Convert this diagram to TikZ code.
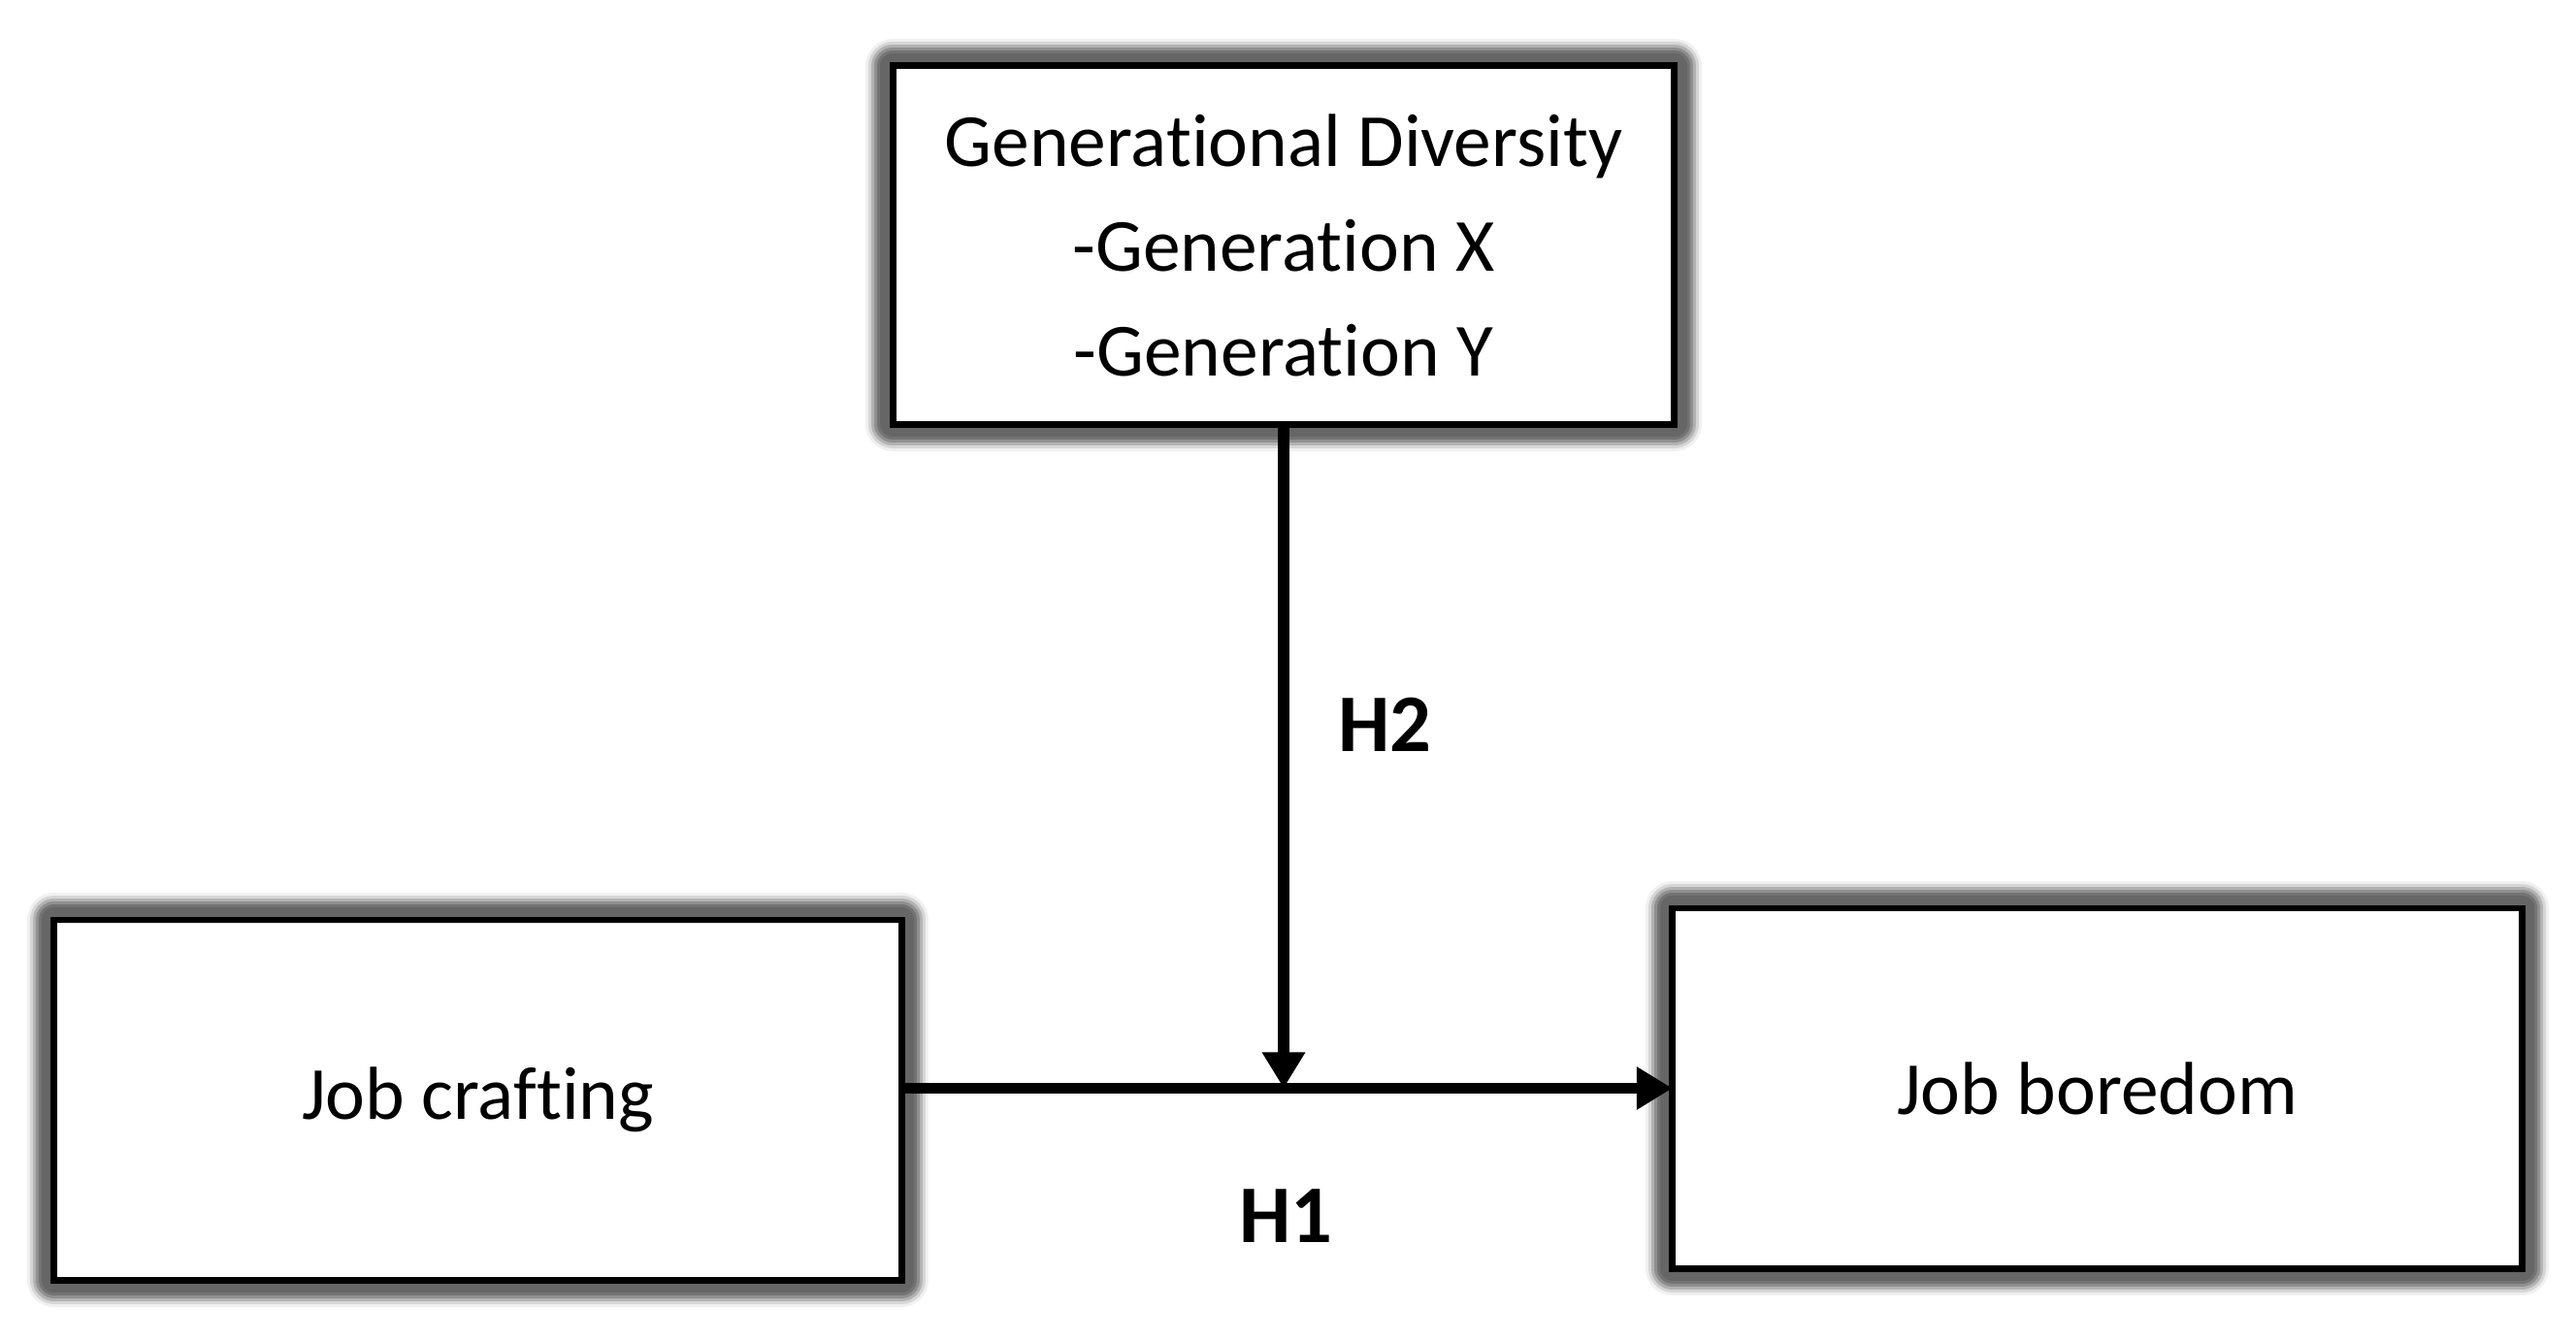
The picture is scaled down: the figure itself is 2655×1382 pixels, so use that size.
\documentclass[tikz,border=0pt]{standalone}
\usepackage{fontspec}
\setmainfont[RawFeature={-liga;-clig;-calt;-dlig}]{Carlito}
\usetikzlibrary{arrows.meta,backgrounds}
\newcommand{\nolig}{\kern0pt{}}
\begin{document}
\begin{tikzpicture}[x=0.01cm,y=-0.01cm,
  boxnode/.style={draw=black,fill=white,line width=0.068cm,inner sep=0pt,outer sep=0pt,
    align=center,font=\fontsize{22}{30.7}\selectfont},
  hlabel/.style={font=\fontsize{24}{28}\selectfont\bfseries,inner sep=0pt},
  conn/.style={line width=0.115cm,-{Triangle[length=0.37cm,width=0.42cm]}},
  glow/.style={line join=round}]
\useasboundingbox (0,0) rectangle (2655,1382);
\node[boxnode,minimum width=8.05cm,minimum height=3.69cm] (gd) at (1323,252.5)
  {Generat\nolig ional Diversity\\-Generat\nolig ion X\\-Generat\nolig ion Y};
\node[boxnode,minimum width=8.73cm,minimum height=3.71cm] (jc) at (492.5,1133.5) {Job craf\nolig t\nolig ing};
\node[boxnode,minimum width=8.75cm,minimum height=3.71cm] (jb) at (2161.5,1121.5) {Job boredom};
\begin{scope}[on background layer]
  \foreach \n in {gd,jc,jb}{
    \draw[glow,line width=0.56cm,black!6] (\n.north west) rectangle (\n.south east);
    \draw[glow,line width=0.50cm,black!16] (\n.north west) rectangle (\n.south east);
    \draw[glow,line width=0.44cm,black!30] (\n.north west) rectangle (\n.south east);
    \draw[glow,line width=0.38cm,black!44] (\n.north west) rectangle (\n.south east);
    \draw[glow,line width=0.32cm,black!55] (\n.north west) rectangle (\n.south east);
    \draw[glow,line width=0.26cm,black!60] (\n.north west) rectangle (\n.south east);
  }
\end{scope}
\draw[conn] (jc.east |- jb.west) -- (jb.west);
\draw[conn] (gd.south) -- (gd.south |- jb.west);
\node[hlabel] (h2) at (1427,747) {H2};
\node[hlabel] (h1) at (1325,1253) {H1};
\end{tikzpicture}
\end{document}
